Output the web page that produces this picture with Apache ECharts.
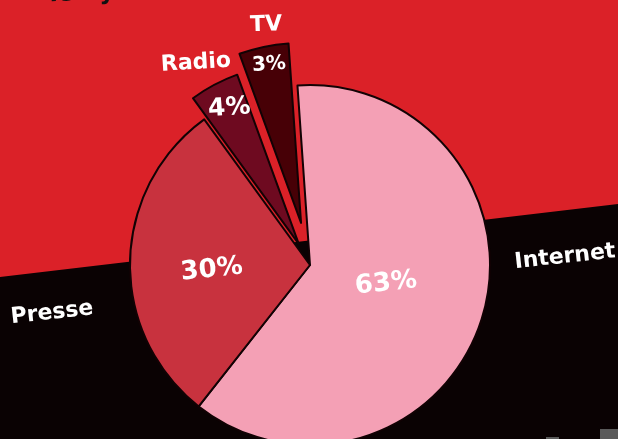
<!DOCTYPE html>
<html>
<head>
<meta charset="utf-8">
<script src="https://cdn.jsdelivr.net/npm/echarts@6/dist/echarts.min.js"></script>
<style>
html,body{margin:0;padding:0;background:#db2128;}
#chart{width:618px;height:439px;}
</style>
</head>
<body>
<div id="chart"></div>
<script>
// ---- data ----
var categories = ['Internet', 'Presse', 'Radio', 'TV'];
var values = [63, 30, 4, 3];
var sliceColors = ['#f4a0b5', '#c8323e', '#6e0a20', '#470006'];
var explodedOffsets = [0, 0, 24, 43];

var chart = echarts.init(document.getElementById('chart'), null, {renderer: 'canvas'});
var FONT = 'DejaVu Sans';
var CENTER = [310, 265];
var R = 180;
var START = 94;

function buildData(visibleIdx) {
  return categories.map(function (name, i) {
    var visible = visibleIdx.indexOf(i) >= 0;
    return {
      name: name,
      value: values[i],
      selected: explodedOffsets[i] > 0 && visible,
      itemStyle: visible ? {color: sliceColors[i], borderColor: '#120204', borderWidth: 2}
                         : {color: 'rgba(0,0,0,0)', borderWidth: 0},
      label: {show: visible}
    };
  });
}

function pieSeries(visibleIdx, offset, labelLayout) {
  return {
    type: 'pie',
    center: CENTER,
    radius: [0, R],
    startAngle: START,
    minAngle: 16,
    clockwise: true,
    silent: true,
    animation: false,
    selectedMode: offset > 0 ? 'multiple' : false,
    selectedOffset: offset,
    avoidLabelOverlap: false,
    labelLine: {show: false},
    label: {
      position: 'inside',
      formatter: '{c}%',
      color: '#ffffff',
      fontFamily: FONT,
      fontWeight: 'bold',
      fontSize: 26
    },
    labelLayout: labelLayout,
    emphasis: {disabled: true},
    data: buildData(visibleIdx)
  };
}

var option = {
  backgroundColor: '#db2128',
  graphic: [
    {type: 'polygon', z: -10, shape: {points: [[0, 277], [618, 204], [618, 439], [0, 439]]}, style: {fill: '#0a0203'}},
    {type: 'rect', z: -5, shape: {x: 600, y: 429, width: 18, height: 10}, style: {fill: '#5a5a5a'}},
    {type: 'rect', z: -5, shape: {x: 546, y: 437, width: 13, height: 2}, style: {fill: '#5a5a5a'}},
    {type: 'text', z: 5, x: 50, y: 7, rotation: 0.04, style: {text: 'le 3yr', fill: '#111', font: 'bold 24px ' + FONT, textVerticalAlign: 'bottom'}},
    {type: 'text', z: 5, x: 565, y: 257, rotation: 0.11, style: {text: categories[0], fill: '#fff', font: 'bold 22px ' + FONT, textAlign: 'center', textVerticalAlign: 'middle'}},
    {type: 'text', z: 5, x: 52, y: 313, rotation: 0.11, style: {text: categories[1], fill: '#fff', font: 'bold 22px ' + FONT, textAlign: 'center', textVerticalAlign: 'middle'}},
    {type: 'text', z: 5, x: 196, y: 63, rotation: 0.06, style: {text: categories[2], fill: '#fff', font: 'bold 22px ' + FONT, textAlign: 'center', textVerticalAlign: 'middle'}},
    {type: 'text', z: 5, x: 266, y: 25, rotation: 0.03, style: {text: categories[3], fill: '#fff', font: 'bold 22px ' + FONT, textAlign: 'center', textVerticalAlign: 'middle'}}
  ],
  series: [
    pieSeries([0, 1], 0, function (p) {
      return p.dataIndex === 0 ? {dx: -12, dy: -10, rotate: 6} : {dx: -6, dy: 6, rotate: 6};
    }),
    pieSeries([2], explodedOffsets[2], function () { return {dx: -22, dy: -55, fontSize: 25, rotate: 4}; }),
    pieSeries([3], explodedOffsets[3], function () { return {dx: -8, dy: -68, fontSize: 20, rotate: 4}; })
  ]
};
chart.setOption(option);
</script>
</body>
</html>
